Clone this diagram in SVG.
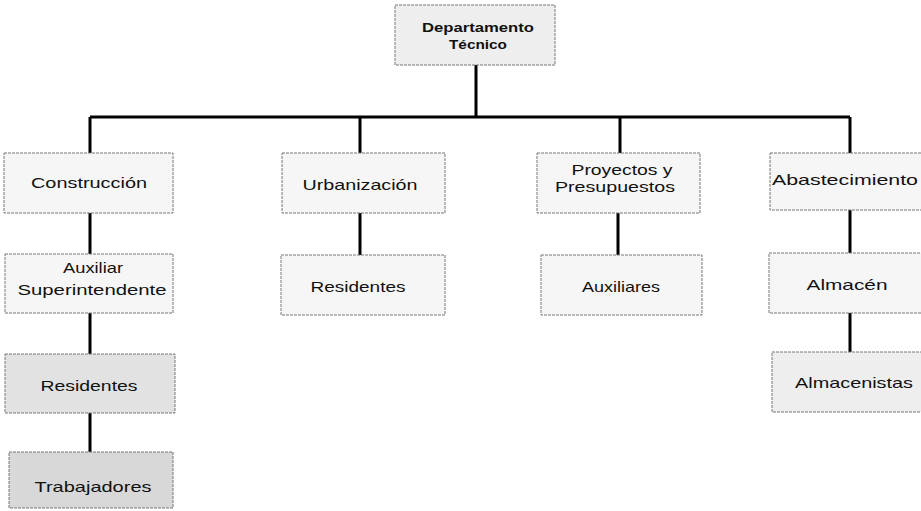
<svg xmlns="http://www.w3.org/2000/svg" width="921" height="511" viewBox="0 0 921 511">
<style>
.box{fill:#f6f6f6;stroke:#777;stroke-width:1;stroke-dasharray:3 1}
.g1{fill:#eeeeee}
.g2{fill:#e2e2e2}
.g3{fill:#d8d8d8}
.t{font-family:"Liberation Sans",Arial,sans-serif;font-size:15px;fill:#111;text-anchor:middle}
.b{font-weight:bold;font-size:12px}
.c{stroke:#000;stroke-width:3;fill:none}
</style>
<rect width="921" height="511" fill="#fff"/>
<g id="connectors">
<path class="c" d="M476 65V117M90 117H850M90 117V153M360 117V153M620 117V153M850 117V153"/>
<path class="c" d="M90 213V254M90 313V354M90 413V452M360 213V255M618 213V255M850 210V253M850 313V352"/>
</g>
<g id="n-depto"><rect class="box g1" x="395" y="5" width="160" height="60"/>
<text class="t b" x="478" y="32" textLength="112" lengthAdjust="spacingAndGlyphs">Departamento</text>
<text class="t b" x="478" y="49" textLength="58" lengthAdjust="spacingAndGlyphs">Técnico</text></g>
<g id="n-construccion"><rect class="box" x="4" y="153" width="169" height="60"/>
<text class="t" x="89" y="188" textLength="116" lengthAdjust="spacingAndGlyphs">Construcción</text></g>
<g id="n-auxsup"><rect class="box" x="5" y="254" width="168" height="59"/>
<text class="t" x="93" y="273" textLength="60" lengthAdjust="spacingAndGlyphs">Auxiliar</text>
<text class="t" x="92" y="295" textLength="149" lengthAdjust="spacingAndGlyphs">Superintendente</text></g>
<g id="n-residentes1"><rect class="box g2" x="5" y="354" width="170" height="59"/>
<text class="t" x="89" y="391" textLength="97" lengthAdjust="spacingAndGlyphs">Residentes</text></g>
<g id="n-trabajadores"><rect class="box g3" x="9" y="452" width="164" height="56"/>
<text class="t" x="93" y="492" textLength="117" lengthAdjust="spacingAndGlyphs">Trabajadores</text></g>
<g id="n-urbanizacion"><rect class="box" x="282" y="153" width="163" height="60"/>
<text class="t" x="360" y="190" textLength="115" lengthAdjust="spacingAndGlyphs">Urbanización</text></g>
<g id="n-residentes2"><rect class="box" x="281" y="255" width="164" height="60"/>
<text class="t" x="358" y="292" textLength="95" lengthAdjust="spacingAndGlyphs">Residentes</text></g>
<g id="n-proyectos"><rect class="box" x="537" y="153" width="163" height="60"/>
<text class="t" x="622" y="175" textLength="101" lengthAdjust="spacingAndGlyphs">Proyectos y</text>
<text class="t" x="615" y="192" textLength="120" lengthAdjust="spacingAndGlyphs">Presupuestos</text></g>
<g id="n-auxiliares"><rect class="box" x="541" y="255" width="161" height="60"/>
<text class="t" x="621" y="292" textLength="78" lengthAdjust="spacingAndGlyphs">Auxiliares</text></g>
<g id="n-abastecimiento"><rect class="box" x="770" y="153" width="160" height="57"/>
<text class="t" x="845" y="185" textLength="146" lengthAdjust="spacingAndGlyphs">Abastecimiento</text></g>
<g id="n-almacen"><rect class="box" x="769" y="253" width="160" height="60"/>
<text class="t" x="847" y="290" textLength="81" lengthAdjust="spacingAndGlyphs">Almacén</text></g>
<g id="n-almacenistas"><rect class="box g1" x="772" y="352" width="160" height="60"/>
<text class="t" x="854" y="388" textLength="118" lengthAdjust="spacingAndGlyphs">Almacenistas</text></g>
</svg>
